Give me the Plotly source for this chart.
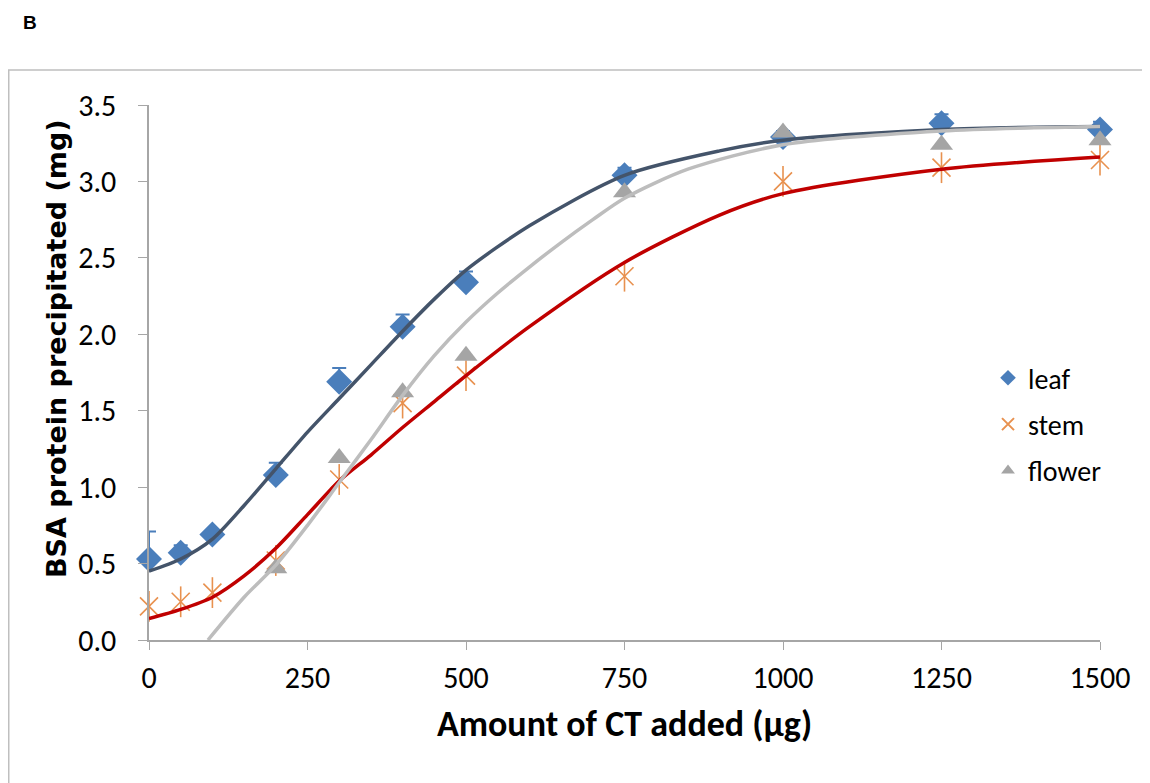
import plotly.graph_objects as go

# ---- data ----
x_pts = [0, 50, 100, 200, 300, 400, 500, 750, 1000, 1250, 1500]
leaf = [0.53, 0.57, 0.69, 1.08, 1.69, 2.05, 2.34, 3.04, 3.29, 3.38, 3.34]
leaf_err = [0.18, 0.05, 0.03, 0.08, 0.09, 0.08, 0.07, 0.05, 0.04, 0.06, 0.05]
stem = [0.22, 0.25, 0.31, 0.52, 1.05, 1.55, 1.73, 2.38, 3.00, 3.09, 3.14]
x_flower = [200, 300, 400, 500, 750, 1000, 1250, 1500]
flower = [0.47, 1.19, 1.62, 1.86, 2.93, 3.32, 3.24, 3.27]

# fitted curves
fit_x = [0, 50, 100, 150, 200, 250, 300, 350, 400, 450, 500, 600, 750, 900, 1000, 1250, 1500]
leaf_fit = [0.45, 0.53, 0.66, 0.88, 1.12, 1.36, 1.58, 1.80, 2.02, 2.23, 2.42, 2.71, 3.04, 3.20, 3.27, 3.34, 3.36]
stem_fit = [0.14, 0.20, 0.28, 0.42, 0.60, 0.82, 1.04, 1.21, 1.39, 1.56, 1.73, 2.05, 2.47, 2.78, 2.92, 3.08, 3.16]
flower_fit_x = [93, 150, 200, 250, 300, 350, 400, 450, 500, 550, 600, 650, 700, 750, 850, 1000, 1250, 1500]
flower_fit = [0.0, 0.28, 0.49, 0.75, 1.03, 1.31, 1.60, 1.86, 2.08, 2.27, 2.44, 2.60, 2.75, 2.89, 3.08, 3.24, 3.33, 3.36]

x_ticks = [0, 250, 500, 750, 1000, 1250, 1500]
y_ticks = [0.0, 0.5, 1.0, 1.5, 2.0, 2.5, 3.0, 3.5]

FONT = "Carlito, Calibri, 'Liberation Sans', sans-serif"
YTITLE_FONT = "'DejaVu Sans', Verdana, sans-serif"
STEM_COLOR = "#E8914F"

W, H = 1142, 775
L, R, T, B = 141, 50, 97, 143
PW, PH = W - L - R, H - T - B

fig = go.Figure()

fig.add_trace(go.Scatter(
    x=x_pts, y=leaf, mode="markers", name="leaf", legendgroup="a",
    marker=dict(symbol="diamond", size=20, color="#4A7EBB"),
    error_y=dict(type="data", symmetric=False, array=leaf_err,
                 arrayminus=[0] * len(leaf_err), color="#4A7EBB",
                 thickness=2, width=7),
    cliponaxis=False,
))
fig.add_trace(go.Scatter(
    x=x_pts, y=stem, mode="markers", name="stem", legendgroup="b",
    marker=dict(symbol="x-thin-open", size=18, color=STEM_COLOR,
                line=dict(color=STEM_COLOR, width=1.6)),
    cliponaxis=False,
))
fig.add_trace(go.Scatter(
    x=x_pts, y=stem, mode="markers", showlegend=False, legendgroup="b",
    marker=dict(symbol="line-ns-open", size=22, color=STEM_COLOR,
                line=dict(color=STEM_COLOR, width=1.6)),
    cliponaxis=False, hoverinfo="skip",
))
fig.add_trace(go.Scatter(
    x=x_flower, y=flower, mode="markers", name="flower", legendgroup="c",
    marker=dict(symbol="triangle-up", size=20, color="#A5A5A5"),
    cliponaxis=False,
))

fig.add_trace(go.Scatter(
    x=fit_x, y=leaf_fit, mode="lines", showlegend=False,
    line=dict(color="#44546A", width=3.5, shape="spline", smoothing=0.8), hoverinfo="skip",
))
fig.add_trace(go.Scatter(
    x=fit_x, y=stem_fit, mode="lines", showlegend=False,
    line=dict(color="#C00000", width=3.5, shape="spline", smoothing=0.8), hoverinfo="skip",
))
fig.add_trace(go.Scatter(
    x=flower_fit_x, y=flower_fit, mode="lines", showlegend=False,
    line=dict(color="#BDBDBD", width=3.5, shape="spline", smoothing=0.8), hoverinfo="skip",
))

fig.update_layout(
    width=W, height=H,
    margin=dict(l=L, r=R, t=T, b=B),
    paper_bgcolor="white", plot_bgcolor="white",
    font=dict(family=FONT, color="#000000"),
    showlegend=True,
    legend=dict(x=(980 - L) / PW, y=(H - B - 345) / PH, xanchor="left", yanchor="top",
                font=dict(size=28, family=FONT), tracegroupgap=7,
                bgcolor="rgba(0,0,0,0)", itemsizing="constant"),
    xaxis=dict(
        range=[0, 1500], tickvals=x_ticks, ticktext=[str(v) for v in x_ticks],
        showgrid=False, zeroline=False, showline=True, linecolor="#A6A6A6",
        linewidth=1.5, ticks="outside", ticklen=8, tickcolor="#A6A6A6",
        tickfont=dict(size=30, family=FONT), ticklabelstandoff=2,
        title=dict(text="<b>Amount of CT added (μg)</b>",
                   font=dict(size=36, family=FONT), standoff=16),
    ),
    yaxis=dict(
        range=[0, 3.5], tickvals=y_ticks, ticktext=[f"{v:.1f}" for v in y_ticks],
        showgrid=False, zeroline=False, showline=True, linecolor="#A6A6A6",
        linewidth=1.5, ticks="outside", ticklen=9, tickcolor="#A6A6A6",
        tickfont=dict(size=30, family=FONT), ticklabelstandoff=16,
    ),
    shapes=[dict(type="rect", xref="paper", yref="paper",
                 x0=(0.75 - L) / PW, x1=(W + 20 - L) / PW,
                 y0=(H - B - (H + 20)) / PH, y1=(H - B - 62) / PH,
                 line=dict(color="#BFBFBF", width=1.5), fillcolor="rgba(0,0,0,0)",
                 layer="below")],
    annotations=[
        dict(text="<b>B</b>", xref="paper", yref="paper",
             x=(13 - L) / PW, y=(H - B - 14.5) / PH, xanchor="left",
             yanchor="middle", showarrow=False,
             font=dict(size=19, family="'Liberation Sans', Arial, sans-serif")),
        dict(text="<b>BSA protein precipitated (mg)</b>", xref="paper", yref="paper",
             x=(48 - L) / PW, y=(H - B - 341) / PH, xanchor="center", yanchor="middle",
             textangle=-90, showarrow=False,
             font=dict(size=27, family=YTITLE_FONT, color="#000000")),
    ],
)

fig.write_html("out.html")
